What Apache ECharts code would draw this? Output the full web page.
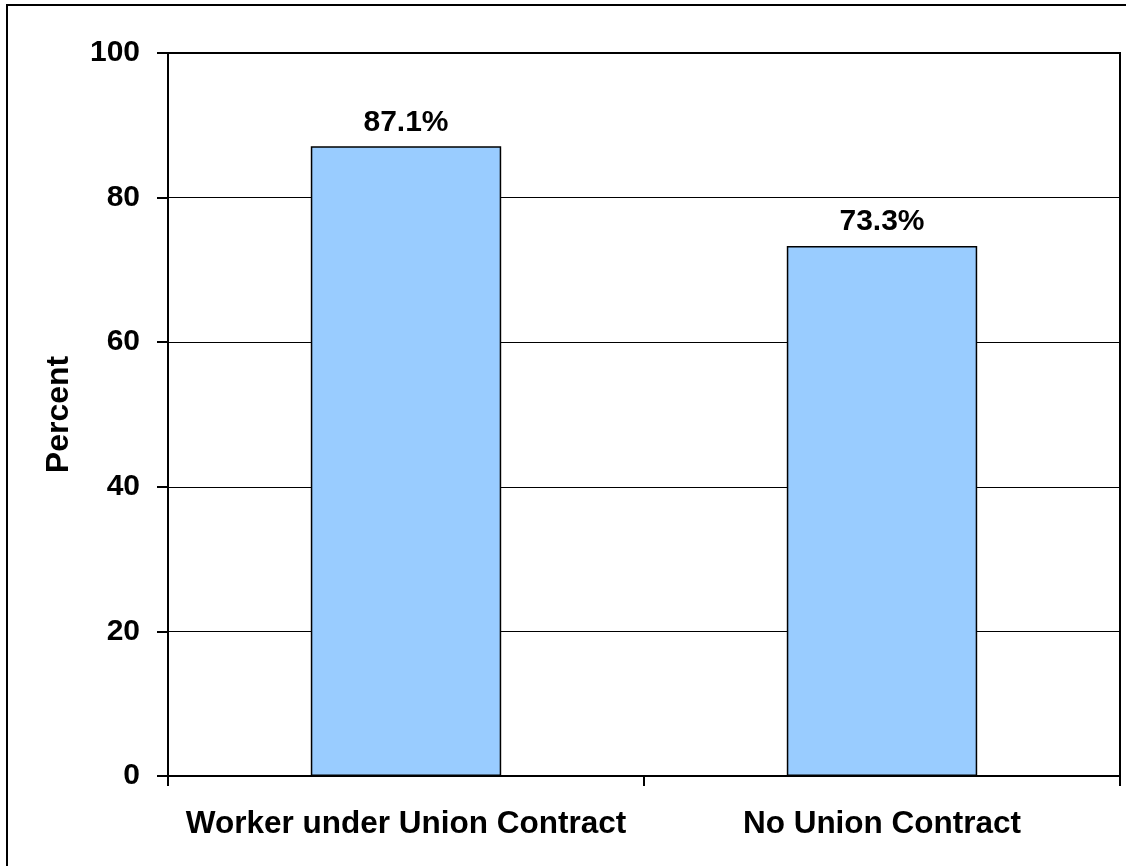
<!DOCTYPE html>
<html>
<head>
<meta charset="utf-8">
<title>Union Contract Percent</title>
<script src="https://cdn.jsdelivr.net/npm/echarts@6/dist/echarts.min.js"></script>
<style>
  html, body { margin: 0; padding: 0; background: #fff; }
  #chart { width: 1126px; height: 866px; }
</style>
</head>
<body>
<div id="chart"></div>
<script>
// Categories and values
const categories = ['Worker under Union Contract', 'No Union Contract'];
const percentValues = [87.1, 73.3];
const yTicks = [0, 20, 40, 60, 80, 100];

const FONT = '"Liberation Sans", Arial, sans-serif';

const chart = echarts.init(document.getElementById('chart'), null, { renderer: 'canvas' });

chart.setOption({
  backgroundColor: '#ffffff',
  animation: false,
  graphic: [{
    type: 'rect',
    shape: { x: 7, y: 5, width: 1130, height: 880 },
    style: { fill: 'none', stroke: '#000', lineWidth: 2 },
    silent: true,
    z: 100
  }],
  grid: {
    left: 168, right: 6, top: 53, bottom: 90,
    show: true, borderColor: '#000', borderWidth: 2,
    containLabel: false
  },
  xAxis: {
    type: 'category',
    data: categories,
    axisLine: { lineStyle: { color: '#000', width: 2 } },
    axisTick: { show: true, length: 10, lineStyle: { color: '#000', width: 2 }, alignWithLabel: false },
    axisLabel: {
      interval: 0, color: '#000', fontFamily: FONT, fontWeight: 'bold',
      fontSize: 31.5, margin: 32
    }
  },
  yAxis: {
    type: 'value',
    min: yTicks[0],
    max: yTicks[yTicks.length - 1],
    interval: 20,
    name: 'Percent',
    nameLocation: 'middle',
    nameGap: 93,
    nameRotate: 90,
    nameTextStyle: { color: '#000', fontFamily: FONT, fontWeight: 'bold', fontSize: 32 },
    axisLine: { show: true, lineStyle: { color: '#000', width: 2 } },
    axisTick: { show: true, length: 11, lineStyle: { color: '#000', width: 2 } },
    axisLabel: {
      color: '#000', fontFamily: FONT, fontWeight: 'bold', fontSize: 30, margin: 28,
      padding: [4, 0, 0, 0]
    },
    splitLine: { show: true, lineStyle: { color: '#000', width: 1 } }
  },
  series: [{
    type: 'bar',
    data: percentValues,
    barWidth: '40%',
    itemStyle: { color: '#99CCFF', borderColor: '#000', borderWidth: 1.5 },
    label: {
      show: true,
      position: 'top',
      distance: 9,
      color: '#000',
      fontFamily: FONT,
      fontWeight: 'bold',
      fontSize: 30,
      formatter: p => p.value.toFixed(1) + '%'
    }
  }]
});
</script>
</body>
</html>
